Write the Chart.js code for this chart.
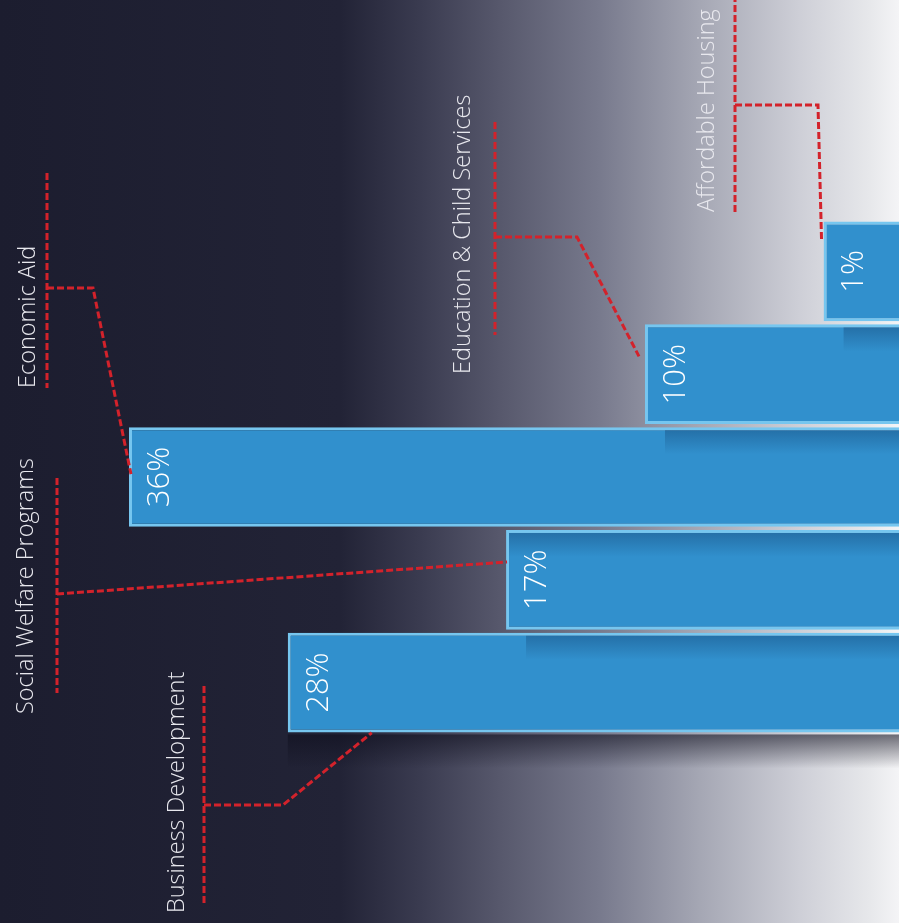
<!DOCTYPE html>
<html><head><meta charset="utf-8">
<script src="https://cdn.jsdelivr.net/npm/chart.js@4.4.1/dist/chart.umd.min.js"></script>
<style>html,body{margin:0;padding:0;background:#1d1e30;overflow:hidden}#wrap{width:899px;height:923px}</style>
</head><body><div id="wrap"><canvas id="c" width="899" height="923"></canvas></div>
<script>
// ---- data ----
const categories = ['Affordable Housing', 'Education & Child Services', 'Economic Aid', 'Social Welfare Programs', 'Business Development'];
const shares = [1, 10, 36, 17, 28];
const valueLabels = ['1%', '10%', '36%', '17%', '28%'];

// ---- layout (not data) ----
const AXIS_MIN = -2.8, AXIS_MAX = 42.5;
const RED = '#d3222b';
// callout layout per category: text baseline x, text start y, vertical line x & span, elbow, end offset relative to bar left/top
const callouts = [
  {tx: 714, ty: 212, lx: 735, ly1: -5,  ly2: 212, ey: 105, ex: 818, end: [-2, 20]},
  {tx: 470, ty: 374, lx: 495, ly1: 122, ly2: 335, ey: 237, ex: 577, end: [-6, 32]},
  {tx: 35,  ty: 388, lx: 47,  ly1: 173, ly2: 388, ey: 288, ex: 93,  end: [2, 47]},
  {tx: 33,  ty: 714, lx: 57,  ly1: 478, ly2: 693, ey: 594, ex: 57,  end: [1, 32]},
  {tx: 184, ty: 913, lx: 204, ly1: 686, ly2: 906, ey: 805, ex: 283, end: [84, 100]}
];

const bgPlugin = {
  id: 'bg',
  beforeDraw(chart) {
    const {ctx, width, height} = chart;
    ctx.save();
    const g = ctx.createLinearGradient(0, 0, width, 0);
    const stops = [[0, '#1c1d2f'], [340/899, '#222336'], [420/899, '#3a3b50'], [500/899, '#57586c'],
      [600/899, '#787a8d'], [700/899, '#a5a7b4'], [800/899, '#cecfd7'], [870/899, '#e7e8eb'], [1, '#f4f4f6']];
    stops.forEach(s => g.addColorStop(s[0], s[1]));
    ctx.fillStyle = g;
    ctx.fillRect(0, 0, width, height);
    ctx.restore();
  }
};

const decoPlugin = {
  id: 'deco',
  afterDatasetsDraw(chart) {
    const {ctx, width} = chart;
    const bars = chart.getDatasetMeta(0).data;
    ctx.save();
    // cast shadows of bar above onto the bar below
    for (let i = 1; i < bars.length; i++) {
      const b = bars[i], a = bars[i - 1];
      const top = b.y - b.height / 2 + 3;
      const x0 = Math.max(b.x + 3, a.x + 20);
      const g = ctx.createLinearGradient(0, top, 0, top + 24);
      g.addColorStop(0, 'rgba(10,45,90,0.32)');
      g.addColorStop(1, 'rgba(10,45,90,0)');
      ctx.fillStyle = g;
      ctx.fillRect(x0, top, width - x0, 24);
    }
    // shadow below last bar
    const last = bars[bars.length - 1];
    const bt = last.y + last.height / 2 + 2;
    const g2 = ctx.createLinearGradient(0, bt, 0, bt + 34);
    g2.addColorStop(0, 'rgba(15,15,30,0.6)');
    g2.addColorStop(1, 'rgba(15,15,30,0)');
    ctx.fillStyle = g2;
    ctx.fillRect(last.x, bt, width - last.x, 34);

    // value labels
    ctx.fillStyle = '#ffffff';
    ctx.font = '300 31px "Open Sans", "Noto Sans", sans-serif';
    ctx.textAlign = 'center';
    ctx.textBaseline = 'middle';
    bars.forEach((b, i) => {
      ctx.save();
      ctx.translate(b.x + 31, b.y);
      ctx.rotate(-Math.PI / 2);
      ctx.fillText(valueLabels[i], 0, 0);
      ctx.restore();
    });
    ctx.restore();
  },
  afterDraw(chart) {
    const {ctx} = chart;
    const bars = chart.getDatasetMeta(0).data;
    ctx.save();
    // category labels
    ctx.fillStyle = '#e8e8ee';
    ctx.font = '300 23.5px "Open Sans", "Noto Sans", sans-serif';
    ctx.textAlign = 'left';
    ctx.textBaseline = 'alphabetic';
    callouts.forEach((c, i) => {
      ctx.save();
      ctx.translate(c.tx, c.ty);
      ctx.rotate(-Math.PI / 2);
      ctx.fillText(categories[i], 0, 0);
      ctx.restore();
    });
    // leader lines
    ctx.strokeStyle = RED;
    ctx.lineWidth = 3;
    ctx.setLineDash([7, 3]);
    ctx.lineCap = 'butt';
    callouts.forEach((c, i) => {
      const b = bars[i];
      const top = b.y - b.height / 2;
      const ex = b.x + c.end[0], ey = top + c.end[1];
      ctx.beginPath();
      ctx.moveTo(c.lx, c.ly1);
      ctx.lineTo(c.lx, c.ly2);
      ctx.stroke();
      ctx.beginPath();
      ctx.moveTo(c.lx, c.ey);
      ctx.lineTo(c.ex, c.ey);
      ctx.lineTo(ex, ey);
      ctx.stroke();
    });
    ctx.restore();
  }
};

new Chart(document.getElementById('c'), {
  type: 'bar',
  data: {
    labels: categories,
    datasets: [{
      data: shares,
      base: AXIS_MIN,
      backgroundColor: '#3190cd',
      borderColor: '#76c6ef',
      borderWidth: {top: 3, bottom: 3, left: 3, right: 0},
      borderSkipped: false,
      barPercentage: 0.97,
      categoryPercentage: 1.0
    }]
  },
  options: {
    indexAxis: 'y',
    responsive: false,
    animation: false,
    devicePixelRatio: 1,
    layout: {padding: {top: 220, bottom: 189, left: 0, right: 0}},
    plugins: {legend: {display: false}, tooltip: {enabled: false}, title: {display: false}},
    scales: {
      x: {type: 'linear', reverse: true, min: AXIS_MIN, max: AXIS_MAX, display: false, grid: {display: false}},
      y: {type: 'category', display: false, grid: {display: false}}
    }
  },
  plugins: [bgPlugin, decoPlugin]
});
</script></body></html>
